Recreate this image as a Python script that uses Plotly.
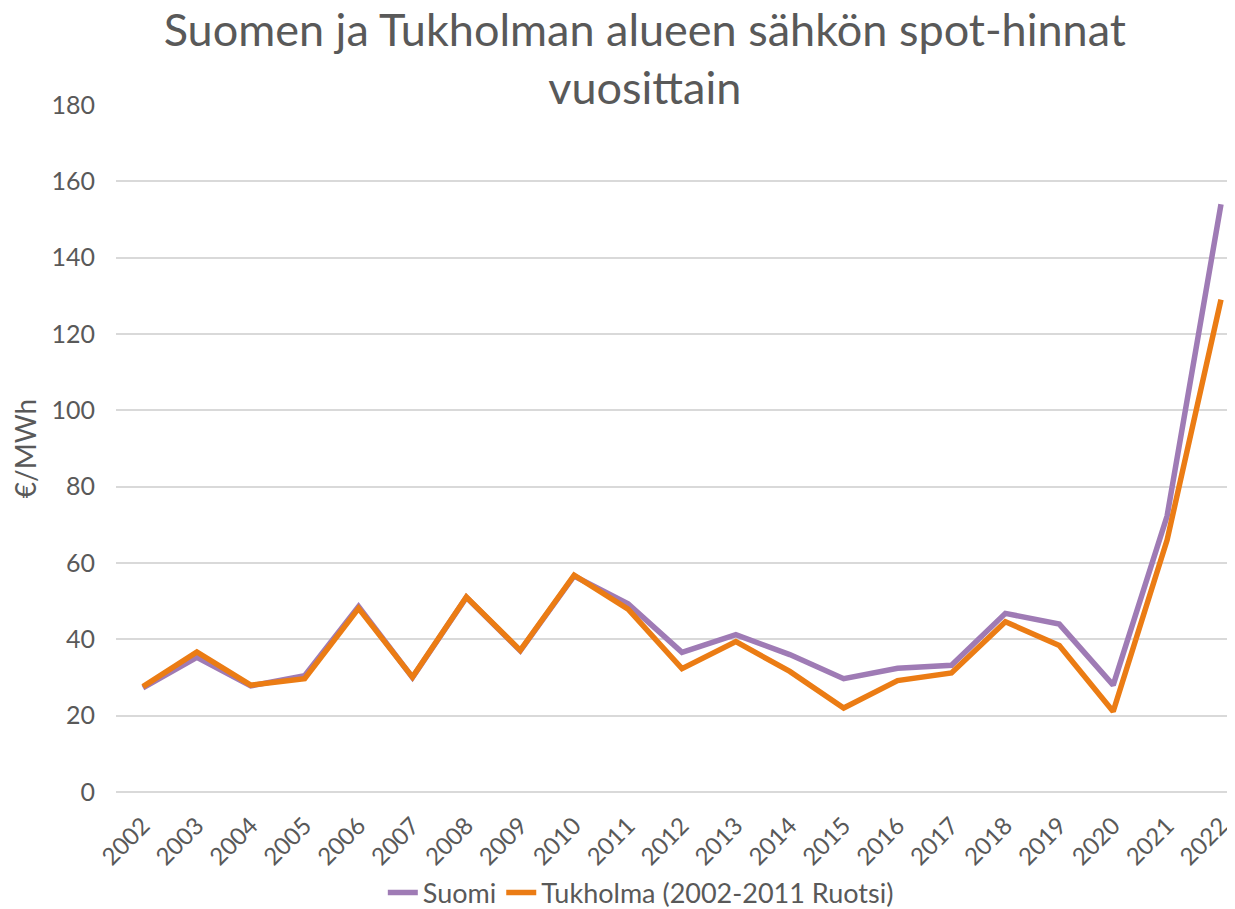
import plotly.graph_objects as go

years = [str(y) for y in range(2002, 2023)]
suomi = [27.3, 35.3, 27.8, 30.5, 48.6, 30.0, 51.0, 37.0, 56.6, 49.3, 36.6,
         41.2, 36.0, 29.7, 32.4, 33.2, 46.8, 44.0, 28.0, 72.3, 154.0]
tukholma = [27.6, 36.7, 28.0, 29.7, 48.1, 30.1, 51.1, 37.1, 56.8, 47.9, 32.3,
            39.4, 31.6, 22.0, 29.2, 31.2, 44.6, 38.4, 21.1, 66.0, 129.0]

FONT = "Lato, 'Open Sans', sans-serif"
GREY = "#595959"

fig = go.Figure()
fig.add_trace(go.Scatter(x=years, y=suomi, mode="lines", name="Suomi",
                         line=dict(color="#9F7BB5", width=5.5)))
fig.add_trace(go.Scatter(x=years, y=tukholma, mode="lines",
                         name="Tukholma (2002-2011 Ruotsi)",
                         line=dict(color="#EB7C14", width=5.5)))

fig.update_layout(
    width=1227, height=901,
    paper_bgcolor="white", plot_bgcolor="white",
    margin=dict(l=108, r=0, t=97, b=117, autoexpand=False),
    font=dict(family=FONT, color=GREY, size=24),
    title=dict(text="Suomen ja Tukholman alueen sähkön spot-hinnat<br>vuosittain",
               x=0.519, xanchor="center", y=0.958, yanchor="middle",
               font=dict(size=45, color=GREY, family=FONT)),
    showlegend=True,
    legend=dict(orientation="h", x=0.469, xanchor="center", y=-0.147, yanchor="middle",
                font=dict(size=27, color=GREY), tracegroupgap=0),
    xaxis=dict(type="category", range=[-0.5, 20.26], tickangle=-45,
               showgrid=False, showline=False, ticks="", automargin=False,
               ticklabelstandoff=14,
               tickfont=dict(size=24, color=GREY)),
    yaxis=dict(range=[0, 180], dtick=20, showgrid=True, gridcolor="#D9D9D9",
               gridwidth=1.5, zeroline=True, zerolinecolor="#D9D9D9",
               zerolinewidth=1.5, showline=False, ticks="", automargin=False,
               ticklabelstandoff=20,
               tickfont=dict(size=25, color=GREY),
               title=dict(text="€/MWh", font=dict(size=28, color=GREY), standoff=14)),
)

fig.write_html("out.html")
